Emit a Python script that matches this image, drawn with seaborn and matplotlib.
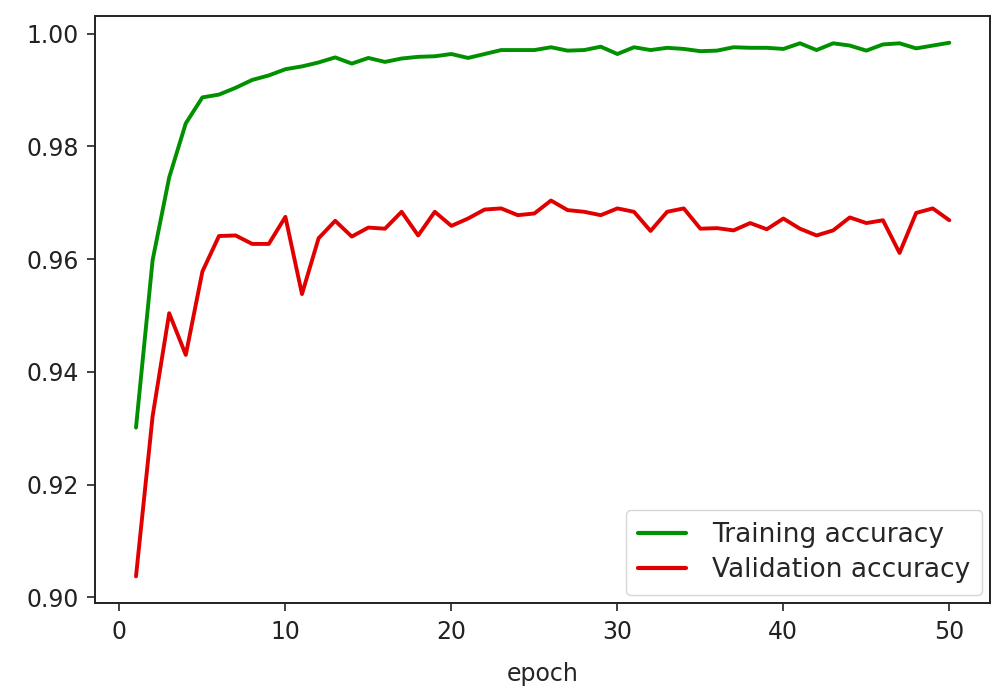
import seaborn as sns
import matplotlib.pyplot as plt
import pandas as pd

epochs = list(range(1, 51))

train_acc = [0.9301, 0.9598, 0.9745, 0.9841, 0.9887, 0.9892, 0.9904, 0.9918, 0.9926, 0.9937,
             0.9942, 0.9949, 0.9958, 0.9947, 0.9957, 0.9950, 0.9956, 0.9959, 0.9960, 0.9964,
             0.9957, 0.9964, 0.9971, 0.9971, 0.9971, 0.9976, 0.9970, 0.9971, 0.9977, 0.9964,
             0.9976, 0.9971, 0.9975, 0.9973, 0.9969, 0.9970, 0.9976, 0.9975, 0.9975, 0.9973,
             0.9983, 0.9971, 0.9983, 0.9979, 0.9970, 0.9981, 0.9983, 0.9974, 0.9979, 0.9984]

val_acc = [0.9037, 0.9321, 0.9504, 0.9430, 0.9578, 0.9641, 0.9642, 0.9627, 0.9627, 0.9675,
           0.9538, 0.9637, 0.9668, 0.9640, 0.9656, 0.9654, 0.9684, 0.9642, 0.9684, 0.9659,
           0.9672, 0.9688, 0.9690, 0.9678, 0.9681, 0.9704, 0.9687, 0.9684, 0.9678, 0.9690,
           0.9684, 0.9650, 0.9684, 0.9690, 0.9654, 0.9655, 0.9651, 0.9664, 0.9653, 0.9672,
           0.9654, 0.9642, 0.9651, 0.9674, 0.9664, 0.9669, 0.9611, 0.9682, 0.9690, 0.9669]

series_names = ['Training accuracy', 'Validation accuracy']

df = pd.DataFrame({
    'epoch': epochs * 2,
    'accuracy': train_acc + val_acc,
    'series': [series_names[0]] * len(epochs) + [series_names[1]] * len(epochs),
})

sns.set_style('ticks')
plt.rcParams['font.family'] = ['DejaVu Sans']

fig, ax = plt.subplots(figsize=(9.93, 6.98), dpi=100)
fig.subplots_adjust(left=0.096, right=0.997, top=0.977, bottom=0.136)

sns.lineplot(data=df, x='epoch', y='accuracy', hue='series', hue_order=series_names,
             palette=['#009000', '#e00000'], linewidth=2.8, ax=ax)

ax.set_xticks([0, 10, 20, 30, 40, 50])
ax.set_yticks([0.90, 0.92, 0.94, 0.96, 0.98, 1.00])
ax.set_yticklabels(['0.90', '0.92', '0.94', '0.96', '0.98', '1.00'])
ax.tick_params(labelsize=17, length=6, width=1.2, colors='#222222', pad=6)
for s in ax.spines.values():
    s.set_linewidth(1.4)
    s.set_color('#222222')

ax.set_xlabel('epoch', fontsize=17, labelpad=13)
ax.set_ylabel('')

leg = ax.legend(loc='lower right', fontsize=19, handlelength=1.8, handletextpad=1.0,
                borderpad=0.45, labelspacing=0.35, borderaxespad=0.3,
                frameon=True, fancybox=True)
leg.get_frame().set_edgecolor('#cccccc')
for line in leg.get_lines():
    line.set_linewidth(3.0)

plt.savefig('out.png', dpi=100)
